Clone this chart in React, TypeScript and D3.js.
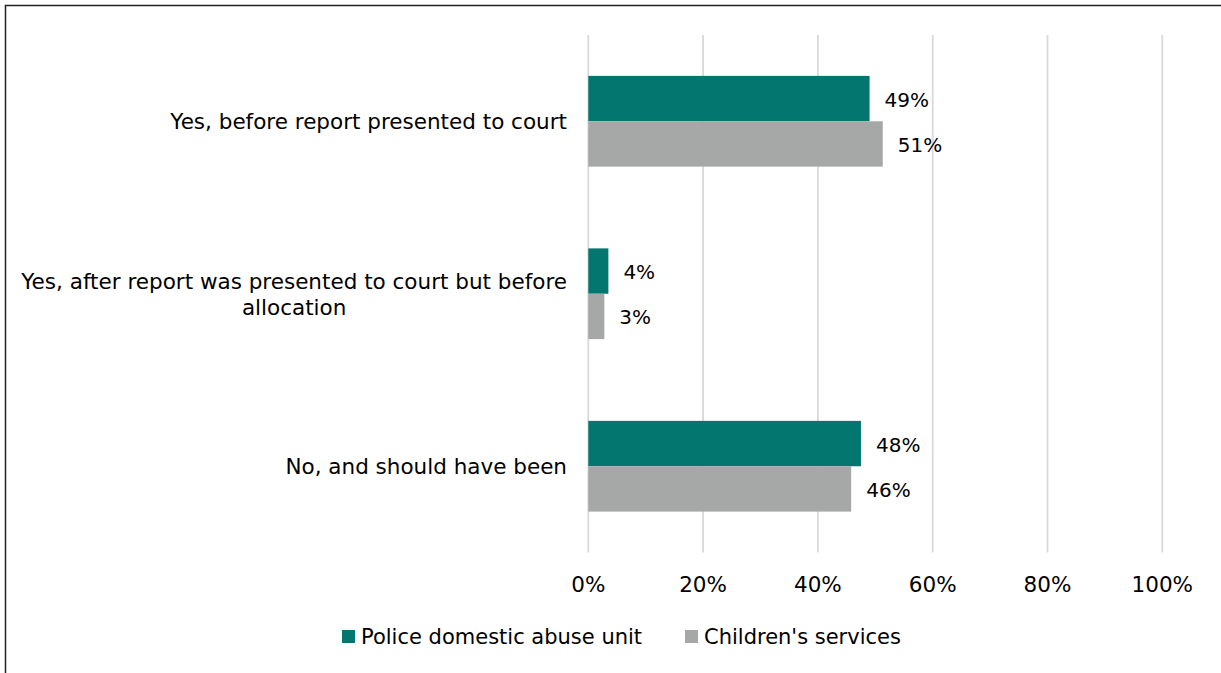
import React, { useEffect, useRef } from "react";
import * as d3 from "d3";

const categories: string[] = [
  "Yes, before report presented to court",
  "Yes, after report was presented to court but before\nallocation",
  "No, and should have been",
];
const seriesNames: string[] = ["Police domestic abuse unit", "Children's services"];
const policeValues: number[] = [49.0, 3.5, 47.5];
const childrenValues: number[] = [51.3, 2.8, 45.8];
const xTicks: number[] = [0, 20, 40, 60, 80, 100];
const seriesColors: string[] = ["#03776F", "#A6A8A8"];

const W = 1221;
const H = 673;
const FONT = "'DejaVu Sans', Verdana, sans-serif";

export default function App() {
  const ref = useRef<SVGSVGElement>(null);

  useEffect(() => {
    const svg = d3.select(ref.current);
    svg.selectAll("*").remove();

    const x = d3.scaleLinear().domain([0, 100]).range([588.3, 1162.3]);
    const y = d3
      .scaleBand<string>()
      .domain(categories)
      .range([35, 552.5])
      .paddingInner(0.474)
      .paddingOuter(0.237);
    const inner = d3.scaleBand<string>().domain(seriesNames).range([0, y.bandwidth()]);
    const values = [policeValues, childrenValues];
    const fmt = (v: number) => d3.format(".0f")(v) + "%";

    // border
    svg
      .append("rect")
      .attr("x", 5.5)
      .attr("y", 5.5)
      .attr("width", W + 20)
      .attr("height", H + 20)
      .attr("fill", "#fff")
      .attr("stroke", "#222")
      .attr("stroke-width", 1.5);

    // gridlines
    svg
      .append("g")
      .selectAll("line")
      .data(xTicks)
      .join("line")
      .attr("x1", (d) => x(d))
      .attr("x2", (d) => x(d))
      .attr("y1", 35)
      .attr("y2", 552.5)
      .attr("stroke", "#D9D9D9")
      .attr("stroke-width", 1.8);

    // tick labels
    svg
      .append("g")
      .selectAll("text")
      .data(xTicks)
      .join("text")
      .attr("x", (d) => x(d))
      .attr("y", 584)
      .attr("text-anchor", "middle")
      .attr("dominant-baseline", "central")
      .attr("font-family", FONT)
      .attr("font-size", 21.5)
      .attr("fill", "#000")
      .text((d) => d + "%");

    // bars
    seriesNames.forEach((s, si) => {
      const g = svg.append("g");
      g.selectAll("rect")
        .data(categories)
        .join("rect")
        .attr("x", x(0))
        .attr("y", (c) => (y(c) as number) + (inner(s) as number))
        .attr("width", (c, i) => x(values[si][i]) - x(0))
        .attr("height", inner.bandwidth())
        .attr("fill", seriesColors[si]);
      g.selectAll("text")
        .data(categories)
        .join("text")
        .attr("x", (c, i) => x(values[si][i]) + 15)
        .attr("y", (c) => (y(c) as number) + (inner(s) as number) + inner.bandwidth() / 2 + 1)
        .attr("dominant-baseline", "central")
        .attr("font-family", FONT)
        .attr("font-size", 20)
        .attr("fill", "#000")
        .text((c, i) => fmt(values[si][i]));
    });

    // category labels
    const lineH = 26;
    categories.forEach((c) => {
      const lines = c.split("\n");
      const cy = (y(c) as number) + y.bandwidth() / 2;
      const t = svg
        .append("text")
        .attr("font-family", FONT)
        .attr("font-size", 21.5)
        .attr("fill", "#000")
        .attr("dominant-baseline", "central");
      const tspans = lines.map((ln, i) =>
        t
          .append("tspan")
          .attr("x", 567)
          .attr("y", cy + (i - (lines.length - 1) / 2) * lineH)
          .attr("text-anchor", "end")
          .text(ln)
      );
      if (lines.length > 1) {
        const widths = tspans.map((ts) => (ts.node() as SVGTSpanElement).getComputedTextLength());
        const maxW = Math.max(...widths);
        tspans.forEach((ts) => ts.attr("text-anchor", "middle").attr("x", 567 - maxW / 2));
      }
    });

    // legend
    const legendItems = [
      { name: seriesNames[0], color: seriesColors[0], x: 342 },
      { name: seriesNames[1], color: seriesColors[1], x: 685 },
    ];
    const lg = svg.append("g");
    legendItems.forEach((it) => {
      lg.append("rect")
        .attr("x", it.x)
        .attr("y", 630)
        .attr("width", 13)
        .attr("height", 13)
        .attr("fill", it.color);
      lg.append("text")
        .attr("x", it.x + 19)
        .attr("y", 637)
        .attr("dominant-baseline", "central")
        .attr("font-family", FONT)
        .attr("font-size", 21)
        .attr("fill", "#000")
        .text(it.name);
    });
  }, []);

  return (
    <svg
      ref={ref}
      width={W}
      height={H}
      style={{ position: "absolute", left: 0, top: 0, display: "block" }}
    />
  );
}
